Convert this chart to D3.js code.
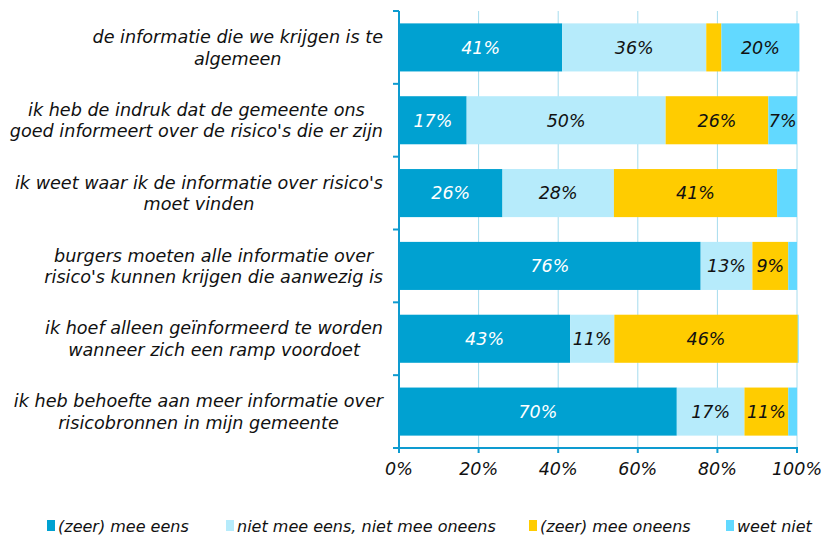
<!DOCTYPE html>
<html>
<head>
<meta charset="utf-8">
<script src="https://cdn.jsdelivr.net/npm/d3@7"></script>
<style>
  body { margin: 0; background: #fff; }
  text { font-family: "DejaVu Sans", Verdana, sans-serif; font-style: italic; }
</style>
</head>
<body>
<script>
"use strict"

// categories (each one split into display lines)
const categories = [
  ["de informatie die we krijgen is te", "algemeen"],
  ["ik heb de indruk dat de gemeente ons", "goed informeert over de risico's die er zijn"],
  ["ik weet waar ik de informatie over risico's", "moet vinden"],
  ["burgers moeten alle informatie over", "risico's kunnen krijgen die aanwezig is"],
  ["ik hoef alleen geïnformeerd te worden", "wanneer zich een ramp voordoet"],
  ["ik heb behoefte aan meer informatie over", "risicobronnen in mijn gemeente"],
]

// series values (%)
const agree    = [41,   17,   26, 75.8, 43,   69.8]
const neutral  = [36.2, 50,   28, 13,   11.1, 17]
const disagree = [3.8,  25.8, 41, 9,    46.1, 11]
const unknown  = [19.6, 7.2,  5,  2.2,  0.2,  2.2]

const seriesNames = ["(zeer) mee eens", "niet mee eens, niet mee oneens", "(zeer) mee oneens", "weet niet"]
const seriesValues = [agree, neutral, disagree, unknown]
const colors = ["#00A1D1", "#B6EBFB", "#FFCC00", "#62D9FF"]
const labelColors = ["#ffffff", "#111111", "#111111", "#111111"]

const xTicks = [0, 20, 40, 60, 80, 100]

const W = 825, H = 535
const plot = { left : 399, right : 797, top : 11, bottom : 448 }

const svg = d3.select("body").append("svg")
  .attr("width", W)
  .attr("height", H)

const x = d3.scaleLinear().domain([0, 100]).range([plot.left, plot.right])
const y = d3.scaleBand()
  .domain(d3.range(categories.length))
  .range([plot.top, plot.bottom])
  .paddingInner(0.34)
  .paddingOuter(0.17)

// gridlines
svg.append("g").selectAll("line")
  .data(xTicks.slice(1))
  .join("line")
  .attr("x1", d => x(d)).attr("x2", d => x(d))
  .attr("y1", plot.top).attr("y2", plot.bottom)
  .attr("stroke", "#a6dcee")
  .attr("stroke-width", 1)

// stacked rows
const rows = categories.map((c, i) => {
  let acc = 0
  return seriesValues.map((s, k) => {
    const seg = { row : i, k, v : s[i], x0 : acc, x1 : acc + s[i] }
    acc += s[i]
    return seg
  })
}).flat()

svg.append("g").selectAll("rect")
  .data(rows)
  .join("rect")
  .attr("x", d => x(d.x0))
  .attr("width", d => x(d.x1) - x(d.x0))
  .attr("y", d => y(d.row))
  .attr("height", y.bandwidth())
  .attr("fill", d => colors[d.k])

svg.append("g").selectAll("text")
  .data(rows.filter(d => d.v >= 6))
  .join("text")
  .attr("x", d => (x(d.x0) + x(d.x1)) / 2)
  .attr("y", d => y(d.row) + y.bandwidth() / 2)
  .attr("dy", "0.36em")
  .attr("text-anchor", "middle")
  .attr("font-size", 17.5)
  .attr("fill", d => labelColors[d.k])
  .text(d => Math.round(d.v) + "%")

// y axis line with ticks at band boundaries
const axisColor = "#0E9BD0"
svg.append("line")
  .attr("x1", plot.left).attr("x2", plot.left)
  .attr("y1", plot.top).attr("y2", plot.bottom)
  .attr("stroke", axisColor).attr("stroke-width", 2)
svg.append("g").selectAll("line")
  .data(d3.range(categories.length + 1))
  .join("line")
  .attr("x1", plot.left - 6).attr("x2", plot.left)
  .attr("y1", i => plot.top + i * y.step()).attr("y2", i => plot.top + i * y.step())
  .attr("stroke", axisColor).attr("stroke-width", 2)

// x axis
svg.append("line")
  .attr("x1", plot.left - 6).attr("x2", plot.right + 1)
  .attr("y1", plot.bottom).attr("y2", plot.bottom)
  .attr("stroke", axisColor).attr("stroke-width", 2)
svg.append("g").selectAll("line")
  .data(xTicks)
  .join("line")
  .attr("x1", d => x(d)).attr("x2", d => x(d))
  .attr("y1", plot.bottom).attr("y2", plot.bottom + 5)
  .attr("stroke", axisColor).attr("stroke-width", 2)
svg.append("g").selectAll("text")
  .data(xTicks)
  .join("text")
  .attr("x", d => x(d))
  .attr("y", 475)
  .attr("text-anchor", "middle")
  .attr("font-size", 17.5)
  .attr("fill", "#111")
  .text(d => d + "%")

// category labels: lines centred on each other, block right-aligned
const labelRight = 383
const cat = svg.append("g").selectAll("g")
  .data(categories)
  .join("g")
cat.each(function (lines, i) {
  const g = d3.select(this)
  const cy = y(i) + y.bandwidth() / 2
  const lh = 21.5
  const texts = lines.map((l, j) => g.append("text")
    .attr("y", cy + (j - (lines.length - 1) / 2) * lh)
    .attr("dy", "0.36em")
    .attr("text-anchor", "middle")
    .attr("font-size", 17.6)
    .attr("fill", "#111")
    .text(l))
  const maxW = d3.max(texts, t => t.node().getComputedTextLength())
  texts.forEach(t => t.attr("x", labelRight - maxW / 2))
})

// legend
const legendX = [47, 226, 529, 726]
const legend = svg.append("g").selectAll("g")
  .data(seriesNames)
  .join("g")
  .attr("transform", (d, i) => `translate(${legendX[i]}, 526)`)
legend.append("rect")
  .attr("x", 0).attr("y", -6)
  .attr("width", 8).attr("height", 11)
  .attr("fill", (d, i) => colors[i])
legend.append("text")
  .attr("x", 11).attr("dy", "0.36em")
  .attr("font-size", 16)
  .attr("fill", "#111")
  .text(d => d)
</script>
</body>
</html>
